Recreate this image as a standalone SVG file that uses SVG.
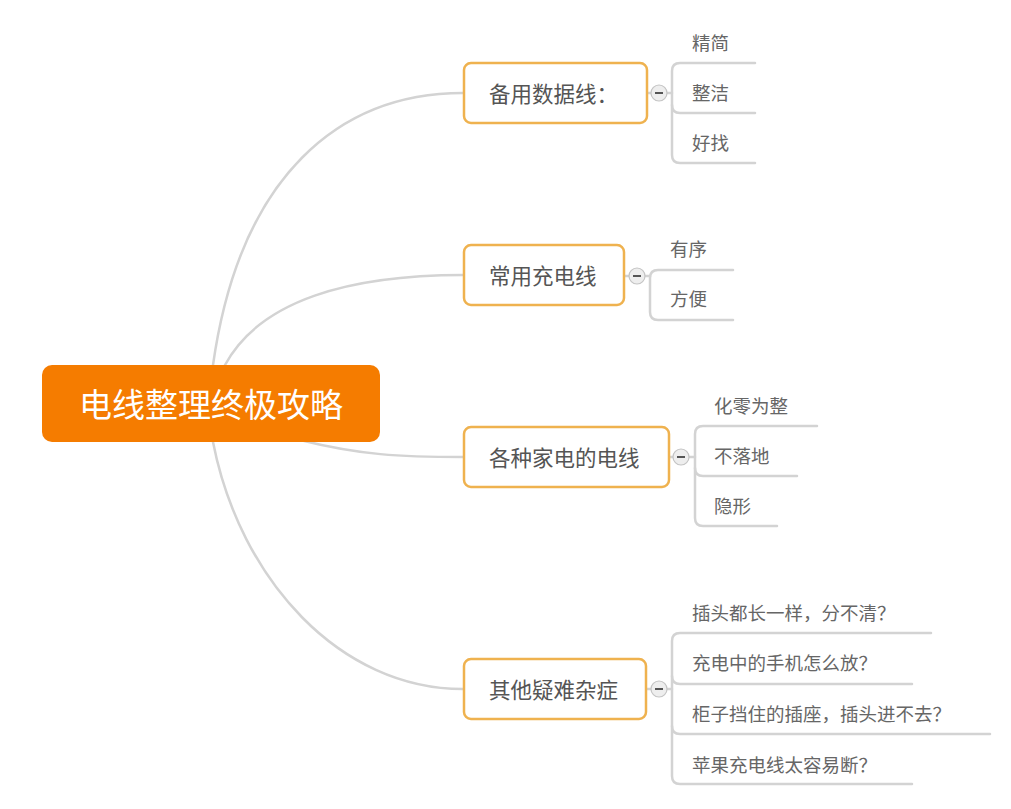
<svg xmlns="http://www.w3.org/2000/svg" width="1011" height="809" viewBox="0 0 1011 809">
<style>
.conn{fill:none;stroke:#d3d3d3;stroke-width:2.5;stroke-linecap:round}
.br rect{fill:#fff;stroke:#efb24f;stroke-width:2.5}
.br text{font-family:"Noto Sans CJK SC","Noto Sans",sans-serif;font-size:21.5px;fill:#555;dominant-baseline:central}
.leaf{font-family:"Noto Sans CJK SC","Noto Sans",sans-serif;font-size:18.5px;fill:#666;dominant-baseline:central}
.tog circle{fill:#eeeeee;stroke:#c4c4c4;stroke-width:1.2}
.tog line{stroke:#555;stroke-width:2}
</style>
<rect width="1011" height="809" fill="#fff"/>
<g id="connectors">
<path class="conn" d="M213,365 C240,175 340,93 463,93"/>
<path class="conn" d="M225,365 C260,300 350,275 463,275"/>
<path class="conn" d="M300,440 C360,455 400,457 463,457"/>
<path class="conn" d="M213,442 C240,580 340,689 463,689"/>
<path class="conn" d="M647,93 H672"/>
<path class="conn" d="M755,63 H680 Q672,63 672,71 V155 Q672,163 680,163 H755"/>
<path class="conn" d="M672,105 Q672,113 680,113 H755"/>
<path class="conn" d="M624,276 H650"/>
<path class="conn" d="M733,270 H658 Q650,270 650,278 V312 Q650,320 658,320 H733"/>
<path class="conn" d="M669,457 H695"/>
<path class="conn" d="M817,426 H703 Q695,426 695,434 V518 Q695,526 703,526 H777"/>
<path class="conn" d="M695,468 Q695,476 703,476 H797"/>
<path class="conn" d="M646,689 H672"/>
<path class="conn" d="M931,633 H680 Q672,633 672,641 V776 Q672,784 680,784 H912"/>
<path class="conn" d="M672,676 Q672,684 680,684 H912"/>
<path class="conn" d="M672,726 Q672,734 680,734 H990"/>
</g>
<g id="root">
<rect x="42" y="365" width="338" height="77" rx="10" fill="#f57c00"/>
<text x="211" y="403" text-anchor="middle" dominant-baseline="central" font-family="Noto Sans CJK SC, Noto Sans, sans-serif" font-size="33" fill="#fff">电线整理终极攻略</text>
</g>
<g id="branch1" class="br">
<rect x="464" y="63" width="183" height="60" rx="7"/>
<text x="489" y="92">备用数据线：</text>
</g>
<g id="branch2" class="br">
<rect x="464" y="245" width="160" height="60" rx="7"/>
<text x="489" y="274">常用充电线</text>
</g>
<g id="branch3" class="br">
<rect x="464" y="427" width="205" height="60" rx="7"/>
<text x="489" y="456">各种家电的电线</text>
</g>
<g id="branch4" class="br">
<rect x="464" y="659" width="182" height="60" rx="7"/>
<text x="489" y="688">其他疑难杂症</text>
</g>
<g id="toggles" class="tog">
<g><circle cx="659" cy="93" r="8"/><line x1="655" y1="93" x2="663" y2="93"/></g>
<g><circle cx="637" cy="276" r="8"/><line x1="633" y1="276" x2="641" y2="276"/></g>
<g><circle cx="681" cy="457" r="8"/><line x1="677" y1="457" x2="685" y2="457"/></g>
<g><circle cx="659" cy="689" r="8"/><line x1="655" y1="689" x2="663" y2="689"/></g>
</g>
<g id="leaves1">
<text class="leaf" x="692" y="42">精简</text>
<text class="leaf" x="692" y="92">整洁</text>
<text class="leaf" x="692" y="142">好找</text>
</g>
<g id="leaves2">
<text class="leaf" x="670" y="248">有序</text>
<text class="leaf" x="670" y="298">方便</text>
</g>
<g id="leaves3">
<text class="leaf" x="714" y="405">化零为整</text>
<text class="leaf" x="714" y="455">不落地</text>
<text class="leaf" x="714" y="505">隐形</text>
</g>
<g id="leaves4">
<text class="leaf" x="692" y="612">插头都长一样，分不清？</text>
<text class="leaf" x="692" y="662">充电中的手机怎么放？</text>
<text class="leaf" x="692" y="713">柜子挡住的插座，插头进不去？</text>
<text class="leaf" x="692" y="764">苹果充电线太容易断？</text>
</g>
</svg>
